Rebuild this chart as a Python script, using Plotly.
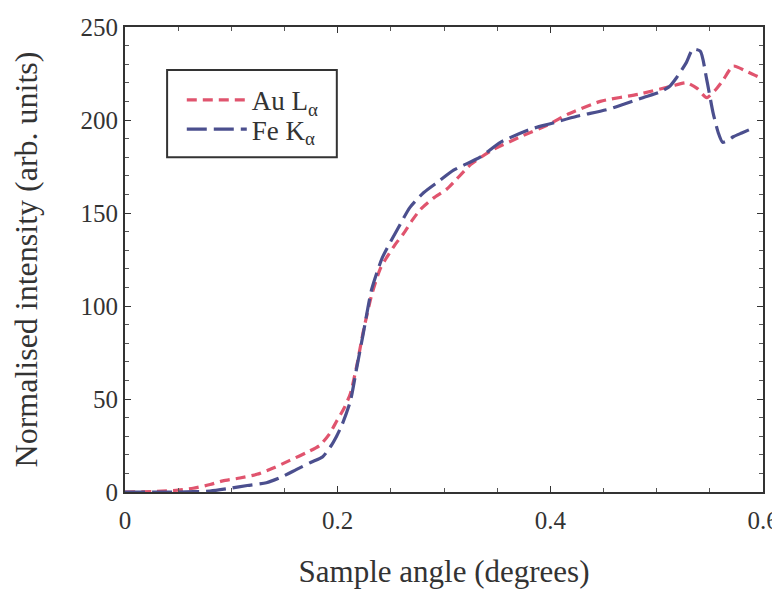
import plotly.graph_objects as go

# Au L-alpha fluorescence vs sample angle
au_angle = [0, 0.03, 0.05, 0.064, 0.08, 0.092, 0.108, 0.124, 0.14, 0.155, 0.17, 0.183,
            0.192, 0.199, 0.206, 0.212, 0.218, 0.224, 0.232, 0.24, 0.246, 0.254, 0.262,
            0.27, 0.278, 0.29, 0.303, 0.325, 0.346, 0.372, 0.4, 0.416, 0.447, 0.484,
            0.513, 0.528, 0.538, 0.547, 0.555, 0.562, 0.572, 0.585, 0.6]
au_int = [0, 0.3, 1, 2, 4, 6, 7.5, 9.5, 13, 17, 21, 25,
          31, 38, 45, 53, 68, 86, 106, 120, 126, 133, 139,
          146, 152, 158, 163, 176, 184, 191, 198, 203, 210, 214,
          218, 220, 217, 212, 216, 221, 229, 226, 222]

# Fe K-alpha fluorescence vs sample angle
fe_angle = [0, 0.05, 0.08, 0.099, 0.115, 0.133, 0.147, 0.161, 0.175, 0.186, 0.194, 0.199,
            0.204, 0.212, 0.218, 0.224, 0.232, 0.242, 0.256, 0.268, 0.281, 0.295, 0.309,
            0.334, 0.353, 0.381, 0.4, 0.425, 0.456, 0.487, 0.503, 0.512, 0.519, 0.528,
            0.534, 0.541, 0.547, 0.553, 0.558, 0.562, 0.567, 0.572, 0.58, 0.588]
fe_int = [0, 0, 0.5, 2, 3.5, 5, 8, 12, 16, 19, 25, 30,
          36, 49, 67, 85, 109, 126, 141, 153, 161, 167, 173,
          180, 188, 195, 198, 202, 206, 212, 215, 218, 223, 231,
          238, 237, 222, 204, 193, 188, 189, 191, 193, 195]

font = "Liberation Serif, Times New Roman, serif"

fig = go.Figure()
fig.add_trace(go.Scatter(x=au_angle, y=au_int, mode="lines", name="Au L<sub>α</sub>",
                         legend="legend", showlegend=True,
                         line=dict(color="#e0546e", width=3.2, dash="10px,6px",
                                   shape="spline", smoothing=0.6)))
fig.add_trace(go.Scatter(x=fe_angle, y=fe_int, mode="lines", name="Fe K<sub>α</sub>",
                         legend="legend2", showlegend=True,
                         line=dict(color="#4b4f8e", width=3.2, dash="20px,7px",
                                   shape="spline", smoothing=0.6)))

axis_common = dict(showline=True, linecolor="#333", linewidth=2, mirror="ticks",
                   ticks="inside", tickcolor="#333", ticklen=6, showgrid=False,
                   zeroline=False, automargin=False,
                   tickfont=dict(family=font, size=25, color="#333"))

fig.update_xaxes(range=[0, 0.6], tickvals=[0, 0.2, 0.4, 0.6], ticktext=["0", "0.2", "0.4", "0.6"],
                 ticklabelstandoff=5,
                 minor=dict(dtick=0.05, ticks="inside", ticklen=4, tickcolor="#555"),
                 title=dict(text="Sample angle (degrees)", standoff=32,
                            font=dict(family=font, size=31, color="#333")),
                 **axis_common)
fig.update_yaxes(range=[0, 250], dtick=50,
                 minor=dict(dtick=10, ticks="inside", ticklen=4, tickcolor="#555"),
                 title=dict(text="Normalised intensity (arb. units)", standoff=38,
                            font=dict(family=font, size=32, color="#333")),
                 **axis_common)

legend_style = dict(xanchor="left", yanchor="top", bgcolor="rgba(0,0,0,0)", borderwidth=0,
                    font=dict(family=font, size=27, color="#333"), itemwidth=60)

# page body has an 8px margin, so the figure is 772x581
fig.update_layout(
    width=772, height=581,
    margin=dict(l=117, r=17, t=19, b=97),
    showlegend=True,
    plot_bgcolor="white", paper_bgcolor="white",
    legend=dict(x=0.089, y=0.895, **legend_style),
    legend2=dict(x=0.089, y=0.832, **legend_style),
    shapes=[dict(type="rect", xref="paper", yref="paper",
                 x0=0.066, x1=0.332, y0=0.72, y1=0.9075,
                 line=dict(color="#333", width=2), fillcolor="rgba(0,0,0,0)")],
)

fig.write_html("out.html")
